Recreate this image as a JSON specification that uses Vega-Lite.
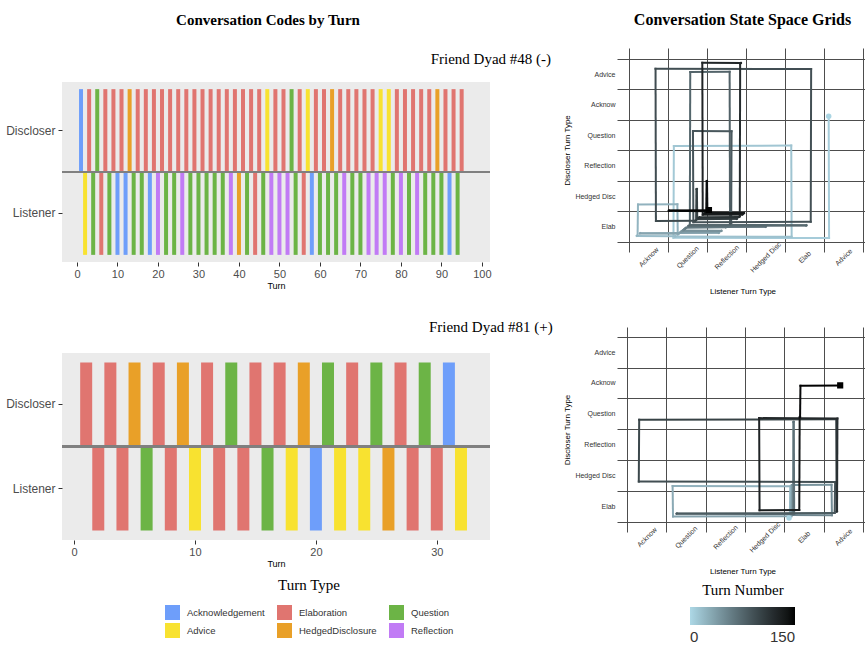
{
  "$schema": "https://vega.github.io/schema/vega-lite/v6.json",
  "padding": {"left": 5, "top": 12, "right": 0, "bottom": 0},
  "config": {
    "font": "Liberation Sans",
    "title": {"font": "Liberation Serif", "fontSize": 16, "fontWeight": "bold", "color": "#000000"},
    "axis": {"domain": false, "grid": false, "labelColor": "#4d4d4d", "tickColor": "#333333", "titleColor": "#000000", "titleFontWeight": "normal", "titleFont": "Liberation Sans", "labelFont": "Liberation Sans"},
    "legend": {"titleFont": "Liberation Serif", "titleFontWeight": "normal", "titleColor": "#000000", "labelFont": "Liberation Sans"}
  },
  "datasets": {
    "d48": [
      {"turn":1,"speaker":"Discloser","code":"Acknowledgement"},{"turn":2,"speaker":"Listener","code":"Advice"},
      {"turn":3,"speaker":"Discloser","code":"Elaboration"},{"turn":4,"speaker":"Listener","code":"Question"},
      {"turn":5,"speaker":"Discloser","code":"Question"},{"turn":6,"speaker":"Listener","code":"Elaboration"},
      {"turn":7,"speaker":"Discloser","code":"Elaboration"},{"turn":8,"speaker":"Listener","code":"Question"},
      {"turn":9,"speaker":"Discloser","code":"Elaboration"},{"turn":10,"speaker":"Listener","code":"Acknowledgement"},
      {"turn":11,"speaker":"Discloser","code":"Elaboration"},{"turn":12,"speaker":"Listener","code":"Acknowledgement"},
      {"turn":13,"speaker":"Discloser","code":"HedgedDisclosure"},{"turn":14,"speaker":"Listener","code":"Question"},
      {"turn":15,"speaker":"Discloser","code":"Elaboration"},{"turn":16,"speaker":"Listener","code":"Question"},
      {"turn":17,"speaker":"Discloser","code":"Elaboration"},{"turn":18,"speaker":"Listener","code":"Acknowledgement"},
      {"turn":19,"speaker":"Discloser","code":"Elaboration"},{"turn":20,"speaker":"Listener","code":"Reflection"},
      {"turn":21,"speaker":"Discloser","code":"Elaboration"},{"turn":22,"speaker":"Listener","code":"Question"},
      {"turn":23,"speaker":"Discloser","code":"Elaboration"},{"turn":24,"speaker":"Listener","code":"Question"},
      {"turn":25,"speaker":"Discloser","code":"Elaboration"},{"turn":26,"speaker":"Listener","code":"Reflection"},
      {"turn":27,"speaker":"Discloser","code":"Elaboration"},{"turn":28,"speaker":"Listener","code":"Question"},
      {"turn":29,"speaker":"Discloser","code":"Elaboration"},{"turn":30,"speaker":"Listener","code":"Question"},
      {"turn":31,"speaker":"Discloser","code":"Elaboration"},{"turn":32,"speaker":"Listener","code":"Question"},
      {"turn":33,"speaker":"Discloser","code":"Elaboration"},{"turn":34,"speaker":"Listener","code":"Question"},
      {"turn":35,"speaker":"Discloser","code":"Elaboration"},{"turn":36,"speaker":"Listener","code":"Question"},
      {"turn":37,"speaker":"Discloser","code":"Elaboration"},{"turn":38,"speaker":"Listener","code":"Reflection"},
      {"turn":39,"speaker":"Discloser","code":"Elaboration"},{"turn":40,"speaker":"Listener","code":"HedgedDisclosure"},
      {"turn":41,"speaker":"Discloser","code":"Elaboration"},{"turn":42,"speaker":"Listener","code":"Question"},
      {"turn":43,"speaker":"Discloser","code":"Elaboration"},{"turn":44,"speaker":"Listener","code":"Elaboration"},
      {"turn":45,"speaker":"Discloser","code":"Elaboration"},{"turn":46,"speaker":"Listener","code":"Question"},
      {"turn":47,"speaker":"Discloser","code":"Advice"},{"turn":48,"speaker":"Listener","code":"Reflection"},
      {"turn":49,"speaker":"Discloser","code":"Elaboration"},{"turn":50,"speaker":"Listener","code":"Reflection"},
      {"turn":51,"speaker":"Discloser","code":"Elaboration"},{"turn":52,"speaker":"Listener","code":"Reflection"},
      {"turn":53,"speaker":"Discloser","code":"Question"},{"turn":54,"speaker":"Listener","code":"Question"},
      {"turn":55,"speaker":"Discloser","code":"Elaboration"},{"turn":56,"speaker":"Listener","code":"Elaboration"},
      {"turn":57,"speaker":"Discloser","code":"Advice"},{"turn":58,"speaker":"Listener","code":"Acknowledgement"},
      {"turn":59,"speaker":"Discloser","code":"Elaboration"},{"turn":60,"speaker":"Listener","code":"Question"},
      {"turn":61,"speaker":"Discloser","code":"Elaboration"},{"turn":62,"speaker":"Listener","code":"Question"},
      {"turn":63,"speaker":"Discloser","code":"HedgedDisclosure"},{"turn":64,"speaker":"Listener","code":"Question"},
      {"turn":65,"speaker":"Discloser","code":"Elaboration"},{"turn":66,"speaker":"Listener","code":"Reflection"},
      {"turn":67,"speaker":"Discloser","code":"Elaboration"},{"turn":68,"speaker":"Listener","code":"Question"},
      {"turn":69,"speaker":"Discloser","code":"Elaboration"},{"turn":70,"speaker":"Listener","code":"Question"},
      {"turn":71,"speaker":"Discloser","code":"Elaboration"},{"turn":72,"speaker":"Listener","code":"Reflection"},
      {"turn":73,"speaker":"Discloser","code":"Elaboration"},{"turn":74,"speaker":"Listener","code":"Reflection"},
      {"turn":75,"speaker":"Discloser","code":"Advice"},{"turn":76,"speaker":"Listener","code":"Reflection"},
      {"turn":77,"speaker":"Discloser","code":"Advice"},{"turn":78,"speaker":"Listener","code":"Question"},
      {"turn":79,"speaker":"Discloser","code":"Elaboration"},{"turn":80,"speaker":"Listener","code":"Reflection"},
      {"turn":81,"speaker":"Discloser","code":"Elaboration"},{"turn":82,"speaker":"Listener","code":"Question"},
      {"turn":83,"speaker":"Discloser","code":"Elaboration"},{"turn":84,"speaker":"Listener","code":"Reflection"},
      {"turn":85,"speaker":"Discloser","code":"Elaboration"},{"turn":86,"speaker":"Listener","code":"Question"},
      {"turn":87,"speaker":"Discloser","code":"Elaboration"},{"turn":88,"speaker":"Listener","code":"Question"},
      {"turn":89,"speaker":"Discloser","code":"HedgedDisclosure"},{"turn":90,"speaker":"Listener","code":"Question"},
      {"turn":91,"speaker":"Discloser","code":"Elaboration"},{"turn":92,"speaker":"Listener","code":"Acknowledgement"},
      {"turn":93,"speaker":"Discloser","code":"Elaboration"},{"turn":94,"speaker":"Listener","code":"Question"},
      {"turn":95,"speaker":"Discloser","code":"Elaboration"}
    ],
    "d81": [
      {"turn":1,"speaker":"Discloser","code":"Elaboration"},{"turn":2,"speaker":"Listener","code":"Elaboration"},
      {"turn":3,"speaker":"Discloser","code":"Elaboration"},{"turn":4,"speaker":"Listener","code":"Elaboration"},
      {"turn":5,"speaker":"Discloser","code":"HedgedDisclosure"},{"turn":6,"speaker":"Listener","code":"Question"},
      {"turn":7,"speaker":"Discloser","code":"Elaboration"},{"turn":8,"speaker":"Listener","code":"Elaboration"},
      {"turn":9,"speaker":"Discloser","code":"HedgedDisclosure"},{"turn":10,"speaker":"Listener","code":"Advice"},
      {"turn":11,"speaker":"Discloser","code":"Elaboration"},{"turn":12,"speaker":"Listener","code":"Elaboration"},
      {"turn":13,"speaker":"Discloser","code":"Question"},{"turn":14,"speaker":"Listener","code":"Elaboration"},
      {"turn":15,"speaker":"Discloser","code":"Elaboration"},{"turn":16,"speaker":"Listener","code":"Question"},
      {"turn":17,"speaker":"Discloser","code":"Elaboration"},{"turn":18,"speaker":"Listener","code":"Advice"},
      {"turn":19,"speaker":"Discloser","code":"HedgedDisclosure"},{"turn":20,"speaker":"Listener","code":"Acknowledgement"},
      {"turn":21,"speaker":"Discloser","code":"Question"},{"turn":22,"speaker":"Listener","code":"Advice"},
      {"turn":23,"speaker":"Discloser","code":"Elaboration"},{"turn":24,"speaker":"Listener","code":"Advice"},
      {"turn":25,"speaker":"Discloser","code":"Question"},{"turn":26,"speaker":"Listener","code":"HedgedDisclosure"},
      {"turn":27,"speaker":"Discloser","code":"Elaboration"},{"turn":28,"speaker":"Listener","code":"Elaboration"},
      {"turn":29,"speaker":"Discloser","code":"Question"},{"turn":30,"speaker":"Listener","code":"Elaboration"},
      {"turn":31,"speaker":"Discloser","code":"Acknowledgement"},{"turn":32,"speaker":"Listener","code":"Advice"}
    ],
    "g48seg": [
      {"t":3,"x":5.12,"y":4.12,"x2":5.13,"y2":0.13},{"t":4,"x":5.13,"y":0.13,"x2":1.14,"y2":0.14},
      {"t":5,"x":1.14,"y":0.14,"x2":1.15,"y2":3.15},{"t":6,"x":1.15,"y":3.15,"x2":4.16,"y2":3.16},
      {"t":7,"x":4.16,"y":3.16,"x2":4.17,"y2":0.17},{"t":8,"x":4.17,"y":0.17,"x2":1.18,"y2":0.18},
      {"t":9,"x":1.18,"y":0.18,"x2":1.19,"y2":0.19},{"t":10,"x":1.19,"y":0.19,"x2":0.20,"y2":0.20},
      {"t":11,"x":0.20,"y":0.20,"x2":0.21,"y2":0.21},{"t":12,"x":0.21,"y":0.21,"x2":0.22,"y2":0.22},
      {"t":13,"x":0.22,"y":0.22,"x2":0.23,"y2":1.23},{"t":14,"x":0.23,"y":1.23,"x2":1.24,"y2":1.24},
      {"t":15,"x":1.24,"y":1.24,"x2":1.25,"y2":0.25},{"t":16,"x":1.25,"y":0.25,"x2":1.26,"y2":0.26},
      {"t":17,"x":1.26,"y":0.26,"x2":1.27,"y2":0.27},{"t":18,"x":1.27,"y":0.27,"x2":0.28,"y2":0.28},
      {"t":19,"x":0.28,"y":0.28,"x2":0.29,"y2":0.29},{"t":20,"x":0.29,"y":0.29,"x2":2.30,"y2":0.30},
      {"t":21,"x":2.30,"y":0.30,"x2":2.31,"y2":0.31},{"t":22,"x":2.31,"y":0.31,"x2":1.32,"y2":0.32},
      {"t":23,"x":1.32,"y":0.32,"x2":1.33,"y2":0.33},{"t":24,"x":1.33,"y":0.33,"x2":1.34,"y2":0.34},
      {"t":25,"x":1.34,"y":0.34,"x2":1.35,"y2":0.35},{"t":26,"x":1.35,"y":0.35,"x2":2.36,"y2":0.36},
      {"t":27,"x":2.36,"y":0.36,"x2":2.37,"y2":0.37},{"t":28,"x":2.37,"y":0.37,"x2":1.38,"y2":0.38},
      {"t":29,"x":1.38,"y":0.38,"x2":1.39,"y2":0.39},{"t":30,"x":1.39,"y":0.39,"x2":1.40,"y2":0.40},
      {"t":31,"x":1.40,"y":0.40,"x2":1.41,"y2":0.41},{"t":32,"x":1.41,"y":0.41,"x2":1.42,"y2":0.42},
      {"t":33,"x":1.42,"y":0.42,"x2":1.43,"y2":0.43},{"t":34,"x":1.43,"y":0.43,"x2":1.44,"y2":0.44},
      {"t":35,"x":1.44,"y":0.44,"x2":1.45,"y2":0.45},{"t":36,"x":1.45,"y":0.45,"x2":1.46,"y2":0.46},
      {"t":37,"x":1.46,"y":0.46,"x2":1.47,"y2":0.47},{"t":38,"x":1.47,"y":0.47,"x2":2.48,"y2":0.48},
      {"t":39,"x":2.48,"y":0.48,"x2":2.49,"y2":0.49},{"t":40,"x":2.49,"y":0.49,"x2":3.50,"y2":0.50},
      {"t":41,"x":3.50,"y":0.50,"x2":3.51,"y2":0.51},{"t":42,"x":3.51,"y":0.51,"x2":1.52,"y2":0.52},
      {"t":43,"x":1.52,"y":0.52,"x2":1.53,"y2":0.53},{"t":44,"x":1.53,"y":0.53,"x2":4.54,"y2":0.54},
      {"t":45,"x":4.54,"y":0.54,"x2":4.55,"y2":0.55},{"t":46,"x":4.55,"y":0.55,"x2":1.56,"y2":0.56},
      {"t":47,"x":1.56,"y":0.56,"x2":1.57,"y2":5.57},{"t":48,"x":1.57,"y":5.57,"x2":2.58,"y2":5.58},
      {"t":49,"x":2.58,"y":5.58,"x2":2.59,"y2":0.59},{"t":50,"x":2.59,"y":0.59,"x2":2.60,"y2":0.60},
      {"t":51,"x":2.60,"y":0.60,"x2":2.61,"y2":0.61},{"t":52,"x":2.61,"y":0.61,"x2":2.62,"y2":0.62},
      {"t":53,"x":2.62,"y":0.62,"x2":2.63,"y2":3.63},{"t":54,"x":2.63,"y":3.63,"x2":1.64,"y2":3.64},
      {"t":55,"x":1.64,"y":3.64,"x2":1.65,"y2":0.65},{"t":56,"x":1.65,"y":0.65,"x2":4.66,"y2":0.66},
      {"t":57,"x":4.66,"y":0.66,"x2":4.67,"y2":5.67},{"t":58,"x":4.67,"y":5.67,"x2":0.68,"y2":5.68},
      {"t":59,"x":0.68,"y":5.68,"x2":0.69,"y2":0.69},{"t":60,"x":0.69,"y":0.69,"x2":1.70,"y2":0.70},
      {"t":61,"x":1.70,"y":0.70,"x2":1.71,"y2":0.71},{"t":62,"x":1.71,"y":0.71,"x2":1.72,"y2":0.72},
      {"t":63,"x":1.72,"y":0.72,"x2":1.73,"y2":1.73},{"t":64,"x":1.73,"y":1.73,"x2":1.74,"y2":1.74},
      {"t":65,"x":1.74,"y":1.74,"x2":1.75,"y2":0.75},{"t":66,"x":1.75,"y":0.75,"x2":2.76,"y2":0.76},
      {"t":67,"x":2.76,"y":0.76,"x2":2.77,"y2":0.77},{"t":68,"x":2.77,"y":0.77,"x2":1.78,"y2":0.78},
      {"t":69,"x":1.78,"y":0.78,"x2":1.79,"y2":0.79},{"t":70,"x":1.79,"y":0.79,"x2":1.80,"y2":0.80},
      {"t":71,"x":1.80,"y":0.80,"x2":1.81,"y2":0.81},{"t":72,"x":1.81,"y":0.81,"x2":2.82,"y2":0.82},
      {"t":73,"x":2.82,"y":0.82,"x2":2.83,"y2":0.83},{"t":74,"x":2.83,"y":0.83,"x2":2.84,"y2":0.84},
      {"t":75,"x":2.84,"y":0.84,"x2":2.85,"y2":5.85},{"t":76,"x":2.85,"y":5.85,"x2":2.86,"y2":5.86},
      {"t":77,"x":2.86,"y":5.86,"x2":2.87,"y2":5.87},{"t":78,"x":2.87,"y":5.87,"x2":1.88,"y2":5.88},
      {"t":79,"x":1.88,"y":5.88,"x2":1.89,"y2":0.89},{"t":80,"x":1.89,"y":0.89,"x2":2.90,"y2":0.90},
      {"t":81,"x":2.90,"y":0.90,"x2":2.91,"y2":0.91},{"t":82,"x":2.91,"y":0.91,"x2":1.92,"y2":0.92},
      {"t":83,"x":1.92,"y":0.92,"x2":1.93,"y2":0.93},{"t":84,"x":1.93,"y":0.93,"x2":2.94,"y2":0.94},
      {"t":85,"x":2.94,"y":0.94,"x2":2.95,"y2":0.95},{"t":86,"x":2.95,"y":0.95,"x2":1.96,"y2":0.96},
      {"t":87,"x":1.96,"y":0.96,"x2":1.97,"y2":0.97},{"t":88,"x":1.97,"y":0.97,"x2":1.98,"y2":0.98},
      {"t":89,"x":1.98,"y":0.98,"x2":1.99,"y2":1.99},{"t":90,"x":1.99,"y":1.99,"x2":2.00,"y2":2.00},
      {"t":91,"x":2.00,"y":2.00,"x2":2.01,"y2":1.01},{"t":92,"x":2.01,"y":1.01,"x2":1.02,"y2":1.02},
      {"t":93,"x":1.02,"y":1.02,"x2":1.03,"y2":1.03},{"t":94,"x":1.03,"y":1.03,"x2":2.04,"y2":1.04},
      {"t":95,"x":2.04,"y":1.04,"x2":2.05,"y2":1.05}
    ],
    "g48mk": [
      {"kind":"start","t":2,"x":5.12,"y":4.12},{"kind":"end","t":95,"x":2.05,"y":1.05}
    ],
    "g81seg": [
      {"t":3,"x":4.12,"y":0.12,"x2":4.13,"y2":0.13},{"t":4,"x":4.13,"y":0.13,"x2":4.14,"y2":0.14},
      {"t":5,"x":4.14,"y":0.14,"x2":4.15,"y2":1.15},{"t":6,"x":4.15,"y":1.15,"x2":1.16,"y2":1.16},
      {"t":7,"x":1.16,"y":1.16,"x2":1.17,"y2":0.17},{"t":8,"x":1.17,"y":0.17,"x2":4.18,"y2":0.18},
      {"t":9,"x":4.18,"y":0.18,"x2":4.19,"y2":1.19},{"t":10,"x":4.19,"y":1.19,"x2":5.20,"y2":1.20},
      {"t":11,"x":5.20,"y":1.20,"x2":5.21,"y2":0.21},{"t":12,"x":5.21,"y":0.21,"x2":4.22,"y2":0.22},
      {"t":13,"x":4.22,"y":0.22,"x2":4.23,"y2":3.23},{"t":14,"x":4.23,"y":3.23,"x2":4.24,"y2":3.24},
      {"t":15,"x":4.24,"y":3.24,"x2":4.25,"y2":0.25},{"t":16,"x":4.25,"y":0.25,"x2":1.26,"y2":0.26},
      {"t":17,"x":1.26,"y":0.26,"x2":1.27,"y2":0.27},{"t":18,"x":1.27,"y":0.27,"x2":5.28,"y2":0.28},
      {"t":19,"x":5.28,"y":0.28,"x2":5.29,"y2":1.29},{"t":20,"x":5.29,"y":1.29,"x2":0.30,"y2":1.30},
      {"t":21,"x":0.30,"y":1.30,"x2":0.31,"y2":3.31},{"t":22,"x":0.31,"y":3.31,"x2":5.32,"y2":3.32},
      {"t":23,"x":5.32,"y":3.32,"x2":5.33,"y2":0.33},{"t":24,"x":5.33,"y":0.33,"x2":5.34,"y2":0.34},
      {"t":25,"x":5.34,"y":0.34,"x2":5.35,"y2":3.35},{"t":26,"x":5.35,"y":3.35,"x2":3.36,"y2":3.36},
      {"t":27,"x":3.36,"y":3.36,"x2":3.37,"y2":0.37},{"t":28,"x":3.37,"y":0.37,"x2":4.38,"y2":0.38},
      {"t":29,"x":4.38,"y":0.38,"x2":4.39,"y2":3.39},{"t":30,"x":4.39,"y":3.39,"x2":4.40,"y2":3.40},
      {"t":31,"x":4.40,"y":3.40,"x2":4.41,"y2":4.41},{"t":32,"x":4.41,"y":4.41,"x2":5.42,"y2":4.42}
    ],
    "g81mk": [
      {"kind":"start","t":2,"x":4.12,"y":0.12},{"kind":"end","t":32,"x":5.42,"y":4.42}
    ]
  },
  "spacing": 10,
  "hconcat": [
    {
      "spacing": 3,
      "vconcat": [
        {
          "width": 428, "height": 1,
          "view": {"stroke": null},
          "title": {"text": "Conversation Codes by Turn", "anchor": "middle", "offset": 20, "fontSize": 15, "dx": -8},
          "data": {"values": []},
          "mark": "point"
        },
        {
          "spacing": 30,
          "vconcat": [
            {
              "width": 428, "height": 180,
              "view": {"fill": "#EBEBEB", "stroke": null},
              "title": {"text": "Friend Dyad #48 (-)", "font": "Liberation Serif", "fontSize": 15, "fontWeight": "normal", "anchor": "end", "dx": 60, "offset": 15},
              "data": {"name": "d48"},
              "layer": [
                {
                  "mark": {"type": "tick", "thickness": 4, "height": 83, "opacity": 1},
                  "encoding": {
                    "x": {"field": "turn", "type": "quantitative", "scale": {"domain": [-3.7, 102], "nice": false, "zero": false},
                          "axis": {"values": [0,10,20,30,40,50,60,70,80,90,100], "tickCount": 20, "title": "Turn", "titleFontSize": 9, "titlePadding": 2, "labelFontSize": 11, "labelPadding": 2, "tickSize": 4, "labelFlush": false}},
                    "y": {"field": "speaker", "type": "nominal", "scale": {"type": "band", "domain": ["Discloser", "Listener"], "paddingInner": 0, "paddingOuter": 0.088},
                          "axis": {"title": null, "labelFontSize": 12, "tickSize": 4, "labelPadding": 3}},
                    "color": {"field": "code", "type": "nominal",
                      "scale": {"domain": ["Acknowledgement", "Elaboration", "Question", "Advice", "HedgedDisclosure", "Reflection"],
                                "range": ["#6E9EFA", "#E07570", "#6CB446", "#F8E230", "#E9A028", "#C17BF5"]},
                      "legend": {"orient": "none", "legendX": 103, "legendY": 530, "direction": "horizontal", "columns": 3, "title": "Turn Type",
                        "titleFontSize": 15, "titleAnchor": "middle", "titlePadding": 12, "symbolType": "square", "symbolSize": 225, "symbolStrokeWidth": 0, "symbolOpacity": 1,
                        "labelFontSize": 9.5, "labelColor": "#333333", "labelOffset": 7, "columnPadding": 12, "rowPadding": 3}}
                  }
                },
                {
                  "mark": {"type": "rule", "color": "#808080", "strokeWidth": 1.5},
                  "encoding": {"y": {"datum": "Listener", "type": "nominal", "bandPosition": 0}}
                }
              ]
            },
            {
              "width": 428, "height": 187,
              "view": {"fill": "#EBEBEB", "stroke": null},
              "title": {"text": "Friend Dyad #81 (+)", "font": "Liberation Serif", "fontSize": 15, "fontWeight": "normal", "anchor": "end", "dx": 62, "offset": 18},
              "data": {"name": "d81"},
              "layer": [
                {
                  "mark": {"type": "tick", "thickness": 12, "height": 84, "opacity": 1},
                  "encoding": {
                    "x": {"field": "turn", "type": "quantitative", "scale": {"domain": [-1, 34.4], "nice": false, "zero": false},
                          "axis": {"values": [0,10,20,30], "tickCount": 20, "title": "Turn", "titleFontSize": 9, "titlePadding": 2, "labelFontSize": 11, "labelPadding": 2, "tickSize": 4, "labelFlush": false}},
                    "y": {"field": "speaker", "type": "nominal", "scale": {"type": "band", "domain": ["Discloser", "Listener"], "paddingInner": 0, "paddingOuter": 0.113},
                          "axis": {"title": null, "labelFontSize": 12, "tickSize": 4, "labelPadding": 3}},
                    "color": {"field": "code", "type": "nominal"}
                  }
                },
                {
                  "mark": {"type": "rule", "color": "#808080", "strokeWidth": 1.5},
                  "encoding": {"y": {"datum": "Listener", "type": "nominal", "bandPosition": 0}}
                }
              ]
            }
          ]
        }
      ]
    },
    {
      "spacing": 31,
      "resolve": {"scale": {"stroke": "independent"}},
      "vconcat": [
        {
          "width": 251, "height": 204,
          "view": {"stroke": null},
          "title": {"text": "Conversation State Space Grids", "anchor": "middle", "offset": 20},
          "layer": [
            {
              "data": {"name": "g48seg"},
              "mark": {"type": "rule", "strokeWidth": 2, "strokeCap": "square"},
              "encoding": {
                "x": {"field": "x", "type": "quantitative", "scale": {"domain": [-0.308, 6.128], "nice": false, "zero": false},
                  "axis": {"values": [0,0.5,1,1.5,2,2.5,3,3.5,4,4.5,5,5.5,6], "tickCount": 30,
                    "labelExpr": "datum.value == 0.5 ? 'Acknow' : datum.value == 1.5 ? 'Question' : datum.value == 2.5 ? 'Reflection' : datum.value == 3.5 ? 'Hedged Disc' : datum.value == 4.5 ? 'Elab' : datum.value == 5.5 ? 'Advice' : ''",
                    "grid": true, "gridColor": "#4d4d4d", "gridWidth": 1,
                    "gridOpacity": {"condition": {"test": "datum.value % 1 == 0", "value": 1}, "value": 0},
                    "ticks": false, "labelAngle": -45, "labelAlign": "center", "labelBaseline": "middle", "labelPadding": 5,
                    "labelFontSize": 7, "labelColor": "#333333", "labelOverlap": false, "labelFlush": false,
                    "title": "Listener Turn Type", "titleFontSize": 8, "titlePadding": 14}},
                "y": {"field": "y", "type": "quantitative", "scale": {"domain": [-0.328, 6.36], "nice": false, "zero": false},
                  "axis": {"values": [0,0.5,1,1.5,2,2.5,3,3.5,4,4.5,5,5.5,6], "tickCount": 30,
                    "labelExpr": "datum.value == 0.5 ? 'Elab' : datum.value == 1.5 ? 'Hedged Disc' : datum.value == 2.5 ? 'Reflection' : datum.value == 3.5 ? 'Question' : datum.value == 4.5 ? 'Acknow' : datum.value == 5.5 ? 'Advice' : ''",
                    "grid": true, "gridColor": "#4d4d4d", "gridWidth": 1,
                    "gridOpacity": {"condition": {"test": "datum.value % 1 == 0", "value": 1}, "value": 0},
                    "ticks": false, "labelPadding": 2, "labelFontSize": 7, "labelColor": "#333333", "labelOverlap": false, "labelFlush": false,
                    "title": "Discloser Turn Type", "titleFontSize": 8, "titlePadding": 3}},
                "x2": {"field": "x2"},
                "y2": {"field": "y2"},
                "stroke": {"field": "t", "type": "quantitative", "scale": {"domain": [2, 95], "range": ["#A9D0DE", "#000000"], "interpolate": "lab"}, "legend": null}
              }
            },
            {
              "data": {"name": "g48mk"},
              "transform": [{"filter": "datum.kind == 'start'"}],
              "mark": {"type": "point", "shape": "circle", "filled": true, "opacity": 1, "size": 30},
              "encoding": {
                "x": {"field": "x", "type": "quantitative"},
                "y": {"field": "y", "type": "quantitative"},
                "fill": {"field": "t", "type": "quantitative", "scale": {"domain": [0, 150], "range": ["#ADD8E6", "#000000"], "interpolate": "lab"},
                  "legend": {"orient": "none", "legendX": 628, "legendY": 535, "direction": "horizontal", "title": "Turn Number", "titleFontSize": 15, "titleAnchor": "middle", "titlePadding": 9,
                    "gradientLength": 105, "gradientThickness": 18, "gradientStrokeWidth": 0, "labelFontSize": 15, "labelColor": "#333333", "labelOffset": 5, "values": [0, 150]}}
              }
            },
            {
              "data": {"name": "g48mk"},
              "transform": [{"filter": "datum.kind == 'end'"}],
              "mark": {"type": "point", "shape": "square", "filled": false, "opacity": 1, "size": 10, "strokeWidth": 3},
              "encoding": {
                "x": {"field": "x", "type": "quantitative"},
                "y": {"field": "y", "type": "quantitative"},
                "stroke": {"field": "t", "type": "quantitative"}
              }
            }
          ]
        },
        {
          "width": 251, "height": 205,
          "view": {"stroke": null},
          "layer": [
            {
              "data": {"name": "g81seg"},
              "mark": {"type": "rule", "strokeWidth": 2, "strokeCap": "square"},
              "encoding": {
                "x": {"field": "x", "type": "quantitative", "scale": {"domain": [-0.254, 6.127], "nice": false, "zero": false},
                  "axis": {"values": [0,0.5,1,1.5,2,2.5,3,3.5,4,4.5,5,5.5,6], "tickCount": 30,
                    "labelExpr": "datum.value == 0.5 ? 'Acknow' : datum.value == 1.5 ? 'Question' : datum.value == 2.5 ? 'Reflection' : datum.value == 3.5 ? 'Hedged Disc' : datum.value == 4.5 ? 'Elab' : datum.value == 5.5 ? 'Advice' : ''",
                    "grid": true, "gridColor": "#4d4d4d", "gridWidth": 1,
                    "gridOpacity": {"condition": {"test": "datum.value % 1 == 0", "value": 1}, "value": 0},
                    "ticks": false, "labelAngle": -45, "labelAlign": "center", "labelBaseline": "middle", "labelPadding": 5,
                    "labelFontSize": 7, "labelColor": "#333333", "labelOverlap": false, "labelFlush": false,
                    "title": "Listener Turn Type", "titleFontSize": 8, "titlePadding": 14}},
                "y": {"field": "y", "type": "quantitative", "scale": {"domain": [-0.334, 6.315], "nice": false, "zero": false},
                  "axis": {"values": [0,0.5,1,1.5,2,2.5,3,3.5,4,4.5,5,5.5,6], "tickCount": 30,
                    "labelExpr": "datum.value == 0.5 ? 'Elab' : datum.value == 1.5 ? 'Hedged Disc' : datum.value == 2.5 ? 'Reflection' : datum.value == 3.5 ? 'Question' : datum.value == 4.5 ? 'Acknow' : datum.value == 5.5 ? 'Advice' : ''",
                    "grid": true, "gridColor": "#4d4d4d", "gridWidth": 1,
                    "gridOpacity": {"condition": {"test": "datum.value % 1 == 0", "value": 1}, "value": 0},
                    "ticks": false, "labelPadding": 2, "labelFontSize": 7, "labelColor": "#333333", "labelOverlap": false, "labelFlush": false,
                    "title": "Discloser Turn Type", "titleFontSize": 8, "titlePadding": 3}},
                "x2": {"field": "x2"},
                "y2": {"field": "y2"},
                "stroke": {"field": "t", "type": "quantitative", "scale": {"domain": [2, 32], "range": ["#A9D0DE", "#000000"], "interpolate": "lab"}, "legend": null}
              }
            },
            {
              "data": {"name": "g81mk"},
              "transform": [{"filter": "datum.kind == 'start'"}],
              "mark": {"type": "point", "shape": "circle", "filled": true, "opacity": 1, "size": 30},
              "encoding": {
                "x": {"field": "x", "type": "quantitative"},
                "y": {"field": "y", "type": "quantitative"},
                "fill": {"field": "t", "type": "quantitative"}
              }
            },
            {
              "data": {"name": "g81mk"},
              "transform": [{"filter": "datum.kind == 'end'"}],
              "mark": {"type": "point", "shape": "square", "filled": false, "opacity": 1, "size": 10, "strokeWidth": 3},
              "encoding": {
                "x": {"field": "x", "type": "quantitative"},
                "y": {"field": "y", "type": "quantitative"},
                "stroke": {"field": "t", "type": "quantitative"}
              }
            }
          ]
        }
      ]
    }
  ]
}
